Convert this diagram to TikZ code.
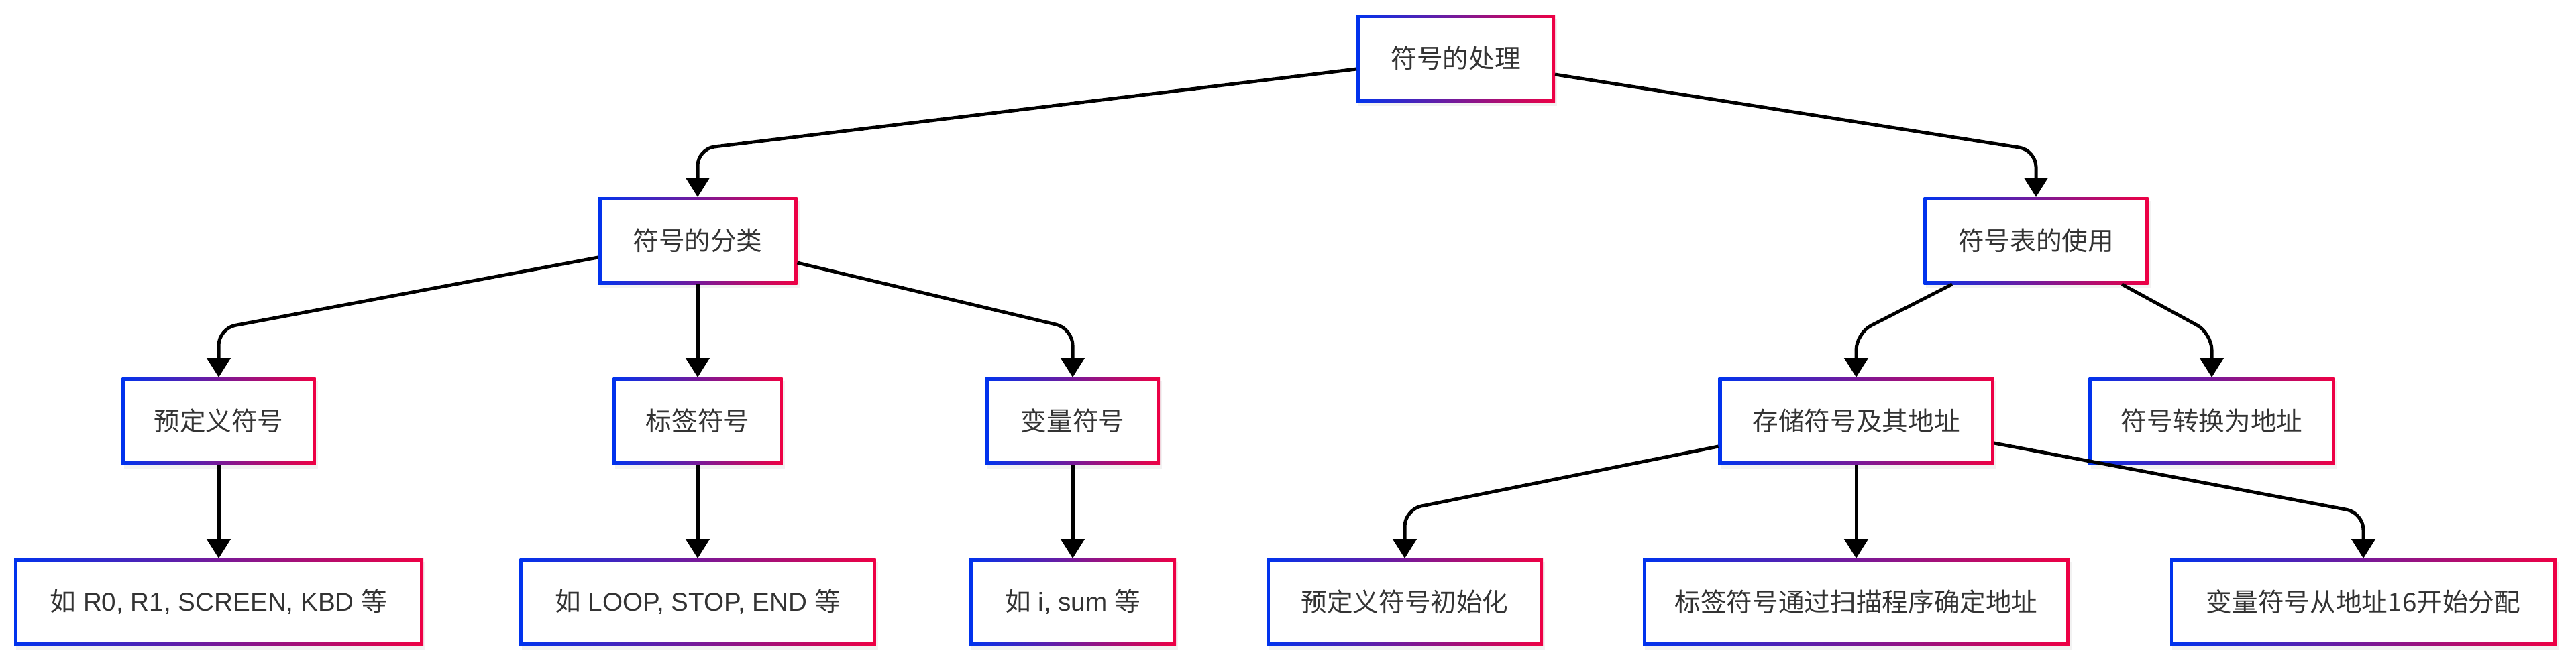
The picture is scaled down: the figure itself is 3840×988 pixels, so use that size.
\documentclass[tikz,border=0pt]{standalone}
\usepackage{fontspec}
\setmainfont{Liberation Sans}
\newfontfamily\cjk{Noto Sans CJK SC}
\usetikzlibrary{arrows.meta,shadows}
\definecolor{gblue}{RGB}{0,51,238}
\definecolor{gred}{RGB}{238,0,68}
\definecolor{txt}{RGB}{51,51,51}
\tikzset{
 box/.style={draw=none, outer sep=0pt, inner sep=0pt, minimum height=13mm, text=txt,
  font=\fontsize{11pt}{13pt}\selectfont,
  drop shadow={opacity=0.10, shadow xshift=0.3mm, shadow yshift=-0.6mm},
  path picture={\shade[left color=gblue,right color=gred] (path picture bounding box.south west) rectangle (path picture bounding box.north east);
   \fill[white] ([shift={(0.5mm,0.5mm)}]path picture bounding box.south west) rectangle ([shift={(-0.5mm,-0.5mm)}]path picture bounding box.north east);}},
 arr/.style={line width=0.5mm, -{Triangle[length=2.9mm,width=3.5mm]}, rounded corners=2.5mm}
}
\begin{document}
\begin{tikzpicture}[x=0.1mm,y=-0.1mm]
\useasboundingbox[fill=white] (0,0) rectangle (3840,988);
% row 1
\node[box, minimum width=29.6mm] (root) at (2170,87) {\cjk 符号的处理};
% row 2
\node[box, minimum width=29.7mm] (A) at (1040,359) {\cjk 符号的分类};
\node[box, minimum width=33.5mm] (B) at (3035,359) {\cjk 符号表的使用};
% row 3
\node[box, minimum width=28.9mm] (A1) at (326,628) {\cjk 预定义符号};
\node[box, minimum width=25.3mm] (A2) at (1040,628) {\cjk 标签符号};
\node[box, minimum width=26.0mm] (A3) at (1599,628) {\cjk 变量符号};
\node[box, minimum width=41.1mm] (B1) at (2767,628) {\cjk 存储符号及其地址};
\node[box, minimum width=36.7mm] (B2) at (3297,628) {\cjk 符号转换为地址};
% row 4
\node[box, minimum width=61.0mm] (A1a) at (326,898) {{\cjk 如} R0, R1, SCREEN, KBD {\cjk 等}};
\node[box, minimum width=53.1mm] (A2a) at (1040,898) {{\cjk 如} LOOP, STOP, END {\cjk 等}};
\node[box, minimum width=30.8mm] (A3a) at (1599,898) {{\cjk 如} i, sum {\cjk 等}};
\node[box, minimum width=41.2mm] (B1a) at (2094,898) {\cjk 预定义符号初始化};
\node[box, minimum width=63.6mm] (B1b) at (2767,898) {\cjk 标签符号通过扫描程序确定地址};
\node[box, minimum width=57.6mm] (B1c) at (3523,898) {\cjk 变量符号从地址16开始分配};
% connectors
\draw[arr] ([yshift=-1.6mm]root.west) -- (A.north |- 0,222) -- (A.north);
\draw[arr] ([yshift=-2.4mm]root.east) -- (B.north |- 0,224) -- (B.north);
\draw[arr] ([yshift=-2.5mm]A.west) -- (A1.north |- 0,490) -- (A1.north);
\draw[arr] (A.south) -- (A2.north);
\draw[arr] ([yshift=-3.3mm]A.east) -- (A3.north |- 0,490) -- (A3.north);
\draw[arr] ([xshift=-12.5mm]B.south) -- (B1.north |- 0,497) -- (B1.north);
\draw[arr] ([xshift=12.8mm]B.south) -- (B2.north |- 0,497) -- (B2.north);
\draw[arr] ([yshift=-3.8mm]B1.west) -- (B1a.north |- 0,760) -- (B1a.north);
\draw[arr] (B1.south) -- (B1b.north);
\draw[arr] ([yshift=-3.3mm]B1.east) -- (B1c.north |- 0,765) -- (B1c.north);
\draw[arr] (A1.south) -- (A1a.north);
\draw[arr] (A2.south) -- (A2a.north);
\draw[arr] (A3.south) -- (A3a.north);
\end{tikzpicture}
\end{document}
